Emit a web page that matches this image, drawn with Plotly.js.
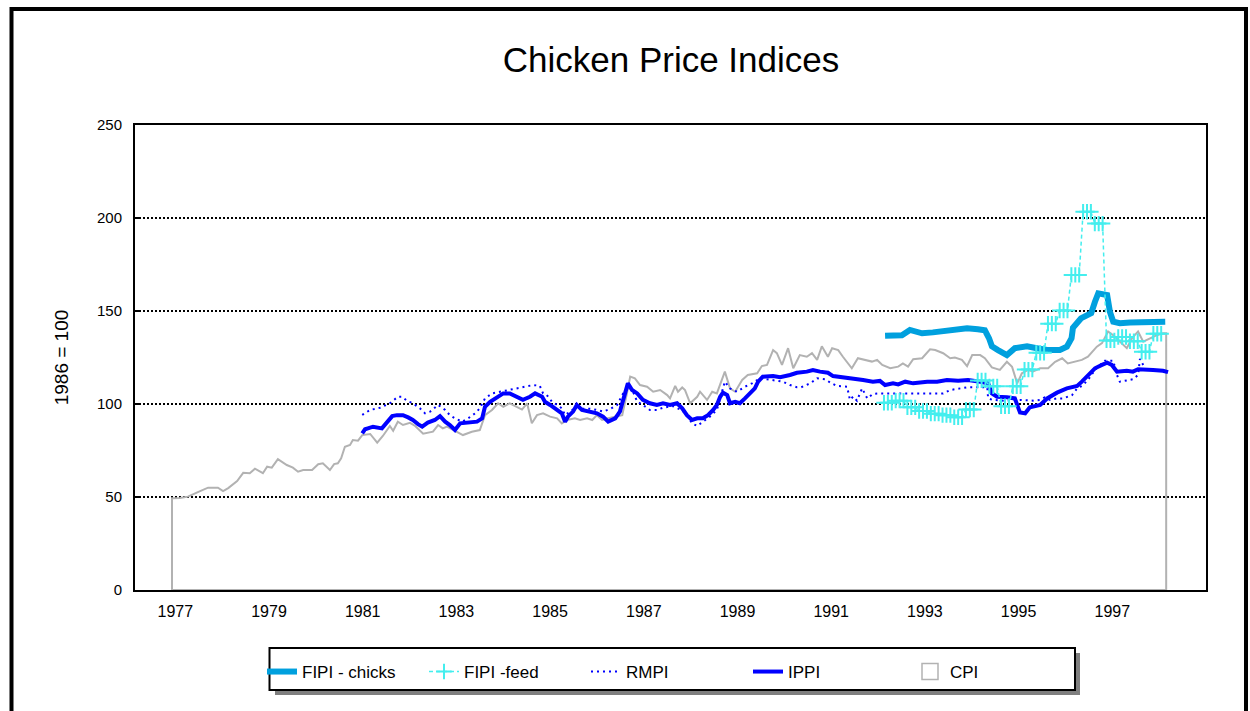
<!DOCTYPE html>
<html><head><meta charset="utf-8">
<script src="https://cdn.plot.ly/plotly-3.0.1.min.js"></script>
<style>html,body{margin:0;padding:0;background:#fff}#chart{width:1250px;height:711px}</style>
</head><body><div id="chart"></div>
<script>
// ---- data (decimal years, index 1986 = 100) ----
const cpiYears = [1977.00,1977.17,1977.34,1977.60,1977.77,1977.98,1978.09,1978.20,1978.39,1978.52,1978.66,1978.77,1978.94,1979.03,1979.13,1979.26,1979.45,1979.58,1979.69,1979.80,1979.99,1980.12,1980.22,1980.37,1980.46,1980.54,1980.61,1980.69,1980.80,1980.86,1980.97,1981.06,1981.23,1981.38,1981.50,1981.65,1981.72,1981.82,1981.93,1982.08,1982.19,1982.36,1982.57,1982.68,1982.78,1982.87,1983.00,1983.21,1983.40,1983.57,1983.68,1983.83,1983.96,1984.07,1984.21,1984.36,1984.47,1984.58,1984.68,1984.79,1984.92,1985.07,1985.22,1985.32,1985.43,1985.60,1985.71,1985.86,1985.97,1986.07,1986.18,1986.31,1986.50,1986.61,1986.71,1986.78,1986.88,1986.99,1987.14,1987.27,1987.42,1987.57,1987.63,1987.74,1987.80,1987.89,1987.95,1988.06,1988.21,1988.27,1988.42,1988.53,1988.63,1988.80,1988.91,1989.02,1989.17,1989.29,1989.49,1989.59,1989.70,1989.83,1989.91,1990.02,1990.15,1990.26,1990.40,1990.55,1990.66,1990.77,1990.87,1991.00,1991.09,1991.22,1991.32,1991.51,1991.64,1991.79,1991.94,1992.05,1992.16,1992.33,1992.50,1992.60,1992.71,1992.82,1993.01,1993.18,1993.29,1993.46,1993.61,1993.71,1993.86,1993.97,1994.08,1994.25,1994.35,1994.50,1994.67,1994.82,1994.93,1995.04,1995.14,1995.27,1995.38,1995.53,1995.70,1995.85,1996.00,1996.12,1996.27,1996.42,1996.55,1996.74,1996.85,1996.98,1997.09,1997.23,1997.38,1997.49,1997.62,1997.73,1997.88,1998.02,1998.15,1998.22];
const cpiValues = [49.3,49.5,50.2,53.2,55,55,53.2,54.8,58.6,63,62.8,65.2,62.8,66.3,65.8,70.4,67.2,65.8,63.6,64.5,64.5,67.6,68.1,64.5,67.7,68.1,70.8,77,78,80.6,80.3,83.3,83.9,79.2,82.8,88.2,85.6,90.5,88.7,89.9,88.2,84,85.1,88.7,86.9,87.8,86,83.3,85.1,86,94,96.8,100.4,98.5,100.4,98.5,97,100.4,89.6,94,95,93.2,92.3,89.6,91.4,92.3,91.4,92.3,91.4,94,91.4,92.3,93.2,94,105.7,114.7,113.8,110.2,109.3,106.6,107.5,104.8,103,109.7,106.6,108.9,107.5,100.4,103.9,106.6,102.2,106.6,105.7,117.4,108.4,106.6,112.9,115.6,116.5,120.4,121,129,127.3,121,130,119.2,126.3,125.4,127.3,123.7,131,125.4,130,129,125.4,119.2,124.6,123.7,122.8,123.7,121,119.2,120.1,121.8,120.1,124.1,124.6,129.4,129,127.3,124.6,125,123.7,120.4,126.3,126.3,124.6,119.7,118.3,122.7,120,111.1,116.5,118.3,117.5,119.2,119.2,122.7,124.6,121.8,122.7,123.7,125.4,130.8,132.7,139,137,133.5,130,135.3,139,133.5,135.3,137,138,138];

const ippiYears = [1981.06,1981.12,1981.18,1981.29,1981.48,1981.55,1981.61,1981.70,1981.80,1981.93,1982.04,1982.14,1982.25,1982.34,1982.46,1982.61,1982.72,1982.83,1982.93,1983.04,1983.15,1983.32,1983.51,1983.62,1983.68,1983.79,1983.94,1984.07,1984.21,1984.36,1984.49,1984.64,1984.75,1984.90,1984.96,1985.07,1985.22,1985.32,1985.39,1985.45,1985.56,1985.64,1985.75,1985.88,1986.07,1986.20,1986.31,1986.46,1986.56,1986.63,1986.71,1986.73,1986.82,1986.93,1987.05,1987.20,1987.35,1987.48,1987.63,1987.78,1987.89,1987.99,1988.10,1988.21,1988.33,1988.44,1988.55,1988.63,1988.70,1988.76,1988.85,1988.91,1989.02,1989.12,1989.23,1989.34,1989.44,1989.51,1989.61,1989.83,1989.98,1990.19,1990.34,1990.55,1990.68,1990.83,1991.00,1991.11,1991.32,1991.54,1991.75,1991.96,1992.11,1992.22,1992.39,1992.50,1992.65,1992.82,1993.12,1993.33,1993.54,1993.78,1993.99,1994.25,1994.42,1994.50,1994.61,1994.82,1994.99,1995.10,1995.21,1995.31,1995.53,1995.68,1995.89,1996.10,1996.32,1996.42,1996.55,1996.70,1996.85,1996.96,1997.06,1997.17,1997.38,1997.51,1997.62,1997.81,1997.94,1998.15,1998.26];
const ippiValues = [84.2,86.4,86.9,87.8,86.9,89.2,91.4,93.5,94,94,92.8,91.4,89.2,87.8,90,91.4,93.5,90.5,88.7,86,89.6,90,90.5,92.3,98.5,101.2,103.9,105.7,105.7,103.9,102.2,103.9,105.7,103.9,101.2,99.5,96.8,95,90.5,93.2,95.9,99.5,96.8,95.9,95,93.2,90.5,92.3,95.9,102.2,110.2,111.1,107.5,105.7,102.2,100.4,99.5,100.4,99.5,100.4,97.7,94,91.4,92.3,92.3,94,96.8,99.5,103.9,106.1,104.8,100.4,101.2,100.4,103,105.7,108.4,112,114.7,115,114.4,115.6,116.8,117.4,118.3,117.4,116.8,115,114.4,113.3,112.9,112,112.4,110.2,111.1,110.5,112,111.1,112,112,112.9,112.5,112.9,112,111.1,105.7,103.9,103.6,103,95.4,95,98.2,99.5,103,106.1,108.4,109.7,112,115.6,119.2,121,122.2,121,117.4,117.9,117.4,118.7,118.7,118.3,117.9,117.1];

const rmpiYears = [1981.06,1981.23,1981.44,1981.65,1981.82,1981.91,1982.02,1982.14,1982.29,1982.40,1982.51,1982.68,1982.83,1982.93,1983.04,1983.19,1983.32,1983.47,1983.57,1983.68,1983.83,1984.00,1984.15,1984.36,1984.53,1984.71,1984.85,1984.92,1985.00,1985.11,1985.22,1985.32,1985.39,1985.50,1985.64,1985.77,1985.92,1986.07,1986.20,1986.35,1986.50,1986.63,1986.78,1986.84,1986.93,1987.05,1987.20,1987.35,1987.48,1987.69,1987.89,1987.99,1988.10,1988.21,1988.33,1988.48,1988.63,1988.70,1988.80,1988.91,1989.06,1989.23,1989.38,1989.49,1989.55,1989.70,1989.91,1990.04,1990.19,1990.34,1990.43,1990.62,1990.77,1990.94,1991.05,1991.19,1991.41,1991.47,1991.54,1991.62,1991.73,1991.84,1991.96,1992.11,1992.54,1992.97,1993.46,1993.61,1993.97,1994.40,1994.42,1994.52,1994.74,1995.10,1995.38,1995.53,1995.63,1995.74,1995.89,1996.02,1996.21,1996.32,1996.42,1996.55,1996.70,1996.81,1996.91,1997.09,1997.17,1997.23,1997.38,1997.51,1997.62,1997.66,1997.73];
const rmpiValues = [94.1,96.8,98,100.4,103.9,103.9,101.6,100.4,97.7,95,95.9,99.5,96.8,94,92.3,90.5,92.3,95,97.7,103,105.7,106.6,107.5,108.4,109.3,110.2,109.8,105.7,104.8,101.2,99.5,97.7,94,96,98.5,97.5,97.5,96.8,95.9,97.3,99.5,105.7,109.3,106.6,101.2,99.5,96.8,96.8,98,98.9,96.5,94,89.6,88.2,90.5,93.2,96.8,103,112,108.4,106.6,109.3,111.1,112.9,114.2,113.3,112.6,112,110.2,109,109,111.1,113.8,113.3,111.5,109.7,109.3,102.2,104,101.8,108.4,103,105.4,105.7,105.7,105.7,105.7,107.5,109,109,103,102.2,101.8,102.2,101.8,102.2,103.6,102.2,103,103,104.8,108.4,109.7,112.9,118.3,121,123.3,123.3,115.6,112,112.9,113.3,115.6,124.2,121];

const chicksYears = [1992.22,1992.58,1992.75,1993.01,1993.24,1993.46,1993.97,1994.20,1994.35,1994.44,1994.50,1994.63,1994.82,1994.99,1995.25,1995.46,1995.68,1995.95,1996.10,1996.20,1996.23,1996.40,1996.62,1996.70,1996.77,1996.96,1997.02,1997.09,1997.23,1997.45,1997.70,1997.94,1998.20];
const chicksValues = [136.7,137,139.8,138,138.5,139.2,140.7,140.2,139.6,135.3,131,129,126.3,130,131,130,129,129,130.8,135.3,141,146,148.8,155,159.5,158.6,149.5,144.2,143.4,143.8,143.9,144,144.2];

// FIPI feed: quarterly values (each plotted on the three months of its quarter)
const feedQuarterYears = [1992.28,1992.53,1992.78,1993.03,1993.28,1993.53,1993.78,1994.03,1994.28,1994.53,1994.78,1995.03,1995.28,1995.53,1995.78,1996.03,1996.28,1996.53,1996.78,1997.03,1997.28,1997.53,1997.78,1998.03];
const feedQuarterValues = [100.7,101.8,98.2,96.2,94.8,94,92.9,97,112.7,109.5,98.8,109.5,118.5,127.5,143.2,150.3,169.4,203.4,197,134.2,136,133.7,128.1,137.8];

const yearTicks = [1977,1979,1981,1983,1985,1987,1989,1991,1993,1995,1997];
const yTicks = [0,50,100,150,200,250];
const seriesNames = ['FIPI - chicks','FIPI -feed','RMPI','IPPI','CPI'];

// ---- build traces ----
const feedX = [], feedY = [];
feedQuarterYears.forEach((c, i) => {
  [-1/12, 0, 1/12].forEach(d => { feedX.push(c + d); feedY.push(feedQuarterValues[i]); });
});
const n = cpiYears.length;
const cpiX = [cpiYears[0], ...cpiYears, cpiYears[n-1], cpiYears[0]];
const cpiY = [0, ...cpiValues, 0, 0];

const FONT = 'Liberation Sans, Arial, sans-serif';
const traces = [
  {x: cpiX, y: cpiY, mode: 'lines', name: seriesNames[4], showlegend: false,
   line: {color: '#b2b2b2', width: 2}, hoverinfo: 'skip'},
  {x: ippiYears, y: ippiValues, mode: 'lines', name: seriesNames[3], legendrank: 4,
   line: {color: '#0000ff', width: 4}},
  {x: rmpiYears, y: rmpiValues, mode: 'lines', name: seriesNames[2], legendrank: 3,
   line: {color: '#0000ff', width: 2, dash: '2px,4px'}},
  {x: chicksYears, y: chicksValues, mode: 'lines', name: seriesNames[0], legendrank: 1,
   line: {color: '#00a0de', width: 6}},
  {x: feedX, y: feedY, mode: 'lines+markers', name: seriesNames[1], legendrank: 2,
   line: {color: '#44eeee', width: 1.5, dash: '4px,3px'},
   marker: {symbol: 'cross-thin', size: 11, color: '#44eeee', line: {color: '#44eeee', width: 2}}},
  {x: [null], y: [null], mode: 'markers', name: seriesNames[4], legendrank: 5,
   marker: {symbol: 'square-open', size: 16, color: '#b2b2b2', line: {color: '#b2b2b2', width: 1.5}}}
];

// paper helpers (plot area: x 135..1206 px, y 125..590 px)
const px = v => (v - 135) / 1071;
const py = v => (590 - v) / 465;

const layout = {
  width: 1250, height: 711,
  margin: {l: 135, r: 44, t: 125, b: 121, autoexpand: false},
  paper_bgcolor: '#ffffff', plot_bgcolor: '#ffffff',
  font: {family: FONT, color: '#000000', size: 15},
  title: {text: 'Chicken Price Indices', font: {family: FONT, size: 35, color: '#000'},
          x: 671/1250, xanchor: 'center', xref: 'container', y: 1 - 60/711, yanchor: 'middle', yref: 'container'},
  showlegend: true,
  legend: {orientation: 'h', xref: 'container', x: 262/1250, xanchor: 'left', yref: 'container', y: 1 - 654/711, yanchor: 'top',
           bgcolor: 'rgba(0,0,0,0)', borderwidth: 0, font: {family: FONT, size: 17, color: '#000'},
           entrywidth: 117, entrywidthmode: 'pixels', itemclick: false},
  xaxis: {type: 'linear', range: [1976.21, 1999.07], tickvals: yearTicks.map(y => y + 0.07), ticktext: yearTicks.map(String),
          showgrid: false, zeroline: false, showline: true, mirror: true, linecolor: '#000', linewidth: 2,
          ticks: '', ticklabelstandoff: 6, tickfont: {family: FONT, size: 16, color: '#000'}, layer: 'below traces'},
  yaxis: {range: [0, 250], tickvals: yTicks, showgrid: true, gridcolor: '#000', gridwidth: 2, griddash: '2px,2px',
          zeroline: false, showline: true, mirror: true, linecolor: '#000', linewidth: 2,
          ticks: 'inside', ticklen: 6, tickwidth: 2, tickcolor: '#000', ticklabelstandoff: 8,
          tickfont: {family: FONT, size: 15, color: '#000'},
          title: {text: '1986 = 100', font: {family: FONT, size: 19, color: '#000'}, standoff: 23}},
  shapes: [
    {type: 'rect', xref: 'paper', yref: 'paper', x0: px(11.5), x1: px(1246), y0: py(740), y1: py(9),
     line: {color: '#000', width: 4}, fillcolor: 'rgba(0,0,0,0)'},
    {type: 'rect', xref: 'paper', yref: 'paper', x0: px(275), x1: px(1080), y0: py(695), y1: py(653),
     line: {width: 0}, fillcolor: '#7f7f7f'},
    {type: 'rect', xref: 'paper', yref: 'paper', x0: px(269.5), x1: px(1075), y0: py(690), y1: py(648),
     line: {color: '#000', width: 2}, fillcolor: '#ffffff'}
  ]
};

Plotly.newPlot('chart', traces, layout, {staticPlot: true, displayModeBar: false});
</script>
</body></html>
